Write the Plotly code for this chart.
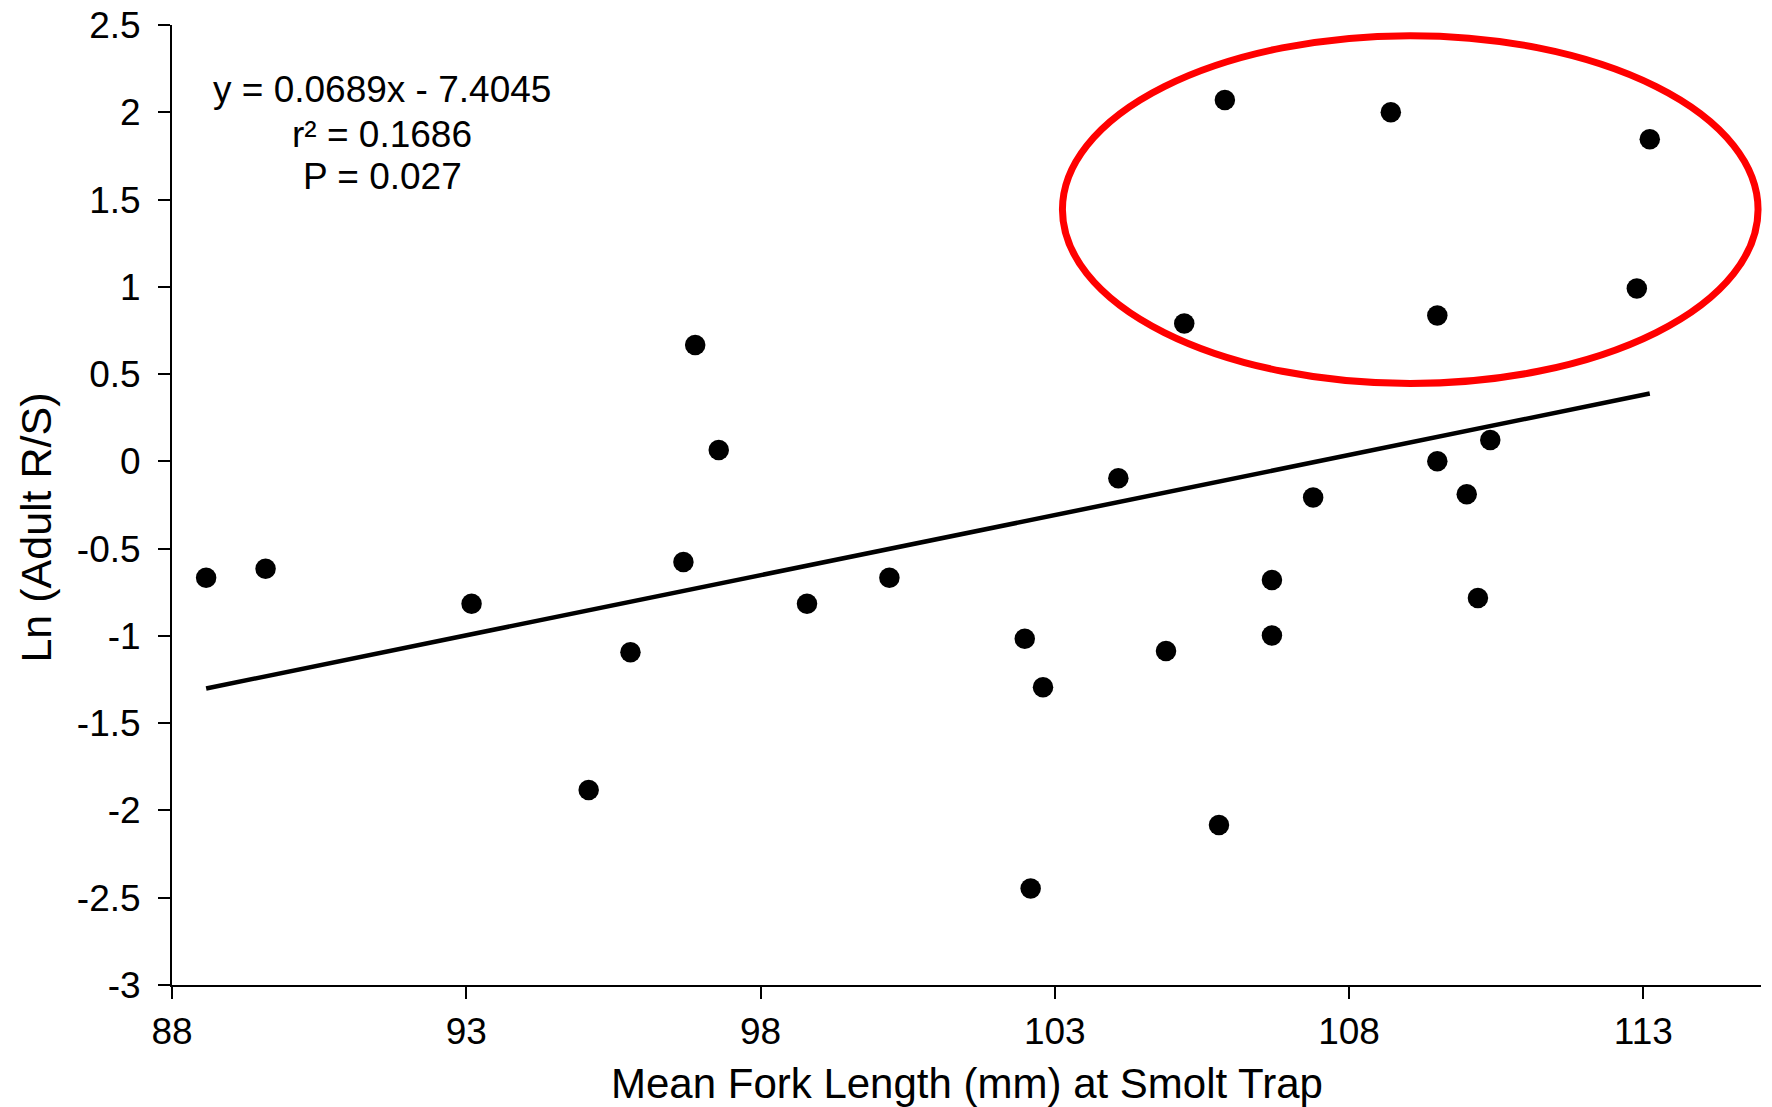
import plotly.graph_objects as go

# ---- data ----
fork_length = [88.58, 89.59, 93.09, 95.08, 95.79, 96.69, 96.89, 97.29, 98.79, 100.19,
               102.49, 102.59, 102.80, 104.08, 104.89, 105.20, 105.79, 105.89, 106.69, 106.69,
               107.39, 108.71, 109.50, 109.50, 110.00, 110.19, 110.40, 112.89, 113.11]
ln_rs = [-0.667, -0.615, -0.816, -1.883, -1.094, -0.576, 0.667, 0.065, -0.816, -0.667,
         -1.016, -2.447, -1.294, -0.097, -1.087, 0.790, -2.084, 2.071, -0.680, -0.997,
         -0.207, 2.000, 0.835, 0.000, -0.188, -0.783, 0.123, 0.990, 1.845]

slope = 0.0689
intercept = -7.4045
stats_lines = ["y = 0.0689x - 7.4045", "r\u00b2 = 0.1686", "P = 0.027"]

x_tickvals = [88, 93, 98, 103, 108, 113]
x_ticktext = ["88", "93", "98", "103", "108", "113"]
y_tickvals = [2.5, 2, 1.5, 1, 0.5, 0, -0.5, -1, -1.5, -2, -2.5, -3]
y_ticktext = ["2.5", "2", "1.5", "1", "0.5", "0", "-0.5", "-1", "-1.5", "-2", "-2.5", "-3"]

x_range = [88, 115]
y_range = [-3, 2.5]

# highlighted cluster (ellipse bounds in data units)
ell_x = [103.13, 114.95]
ell_y = [0.446, 2.439]

FONT = "Liberation Sans, Arial, sans-serif"

def xp(v):
    return (v - x_range[0]) / (x_range[1] - x_range[0])

def yp(v):
    return (v - y_range[0]) / (y_range[1] - y_range[0])

fig = go.Figure()

x_line = [min(fork_length), max(fork_length)]
fig.add_trace(go.Scatter(
    x=x_line, y=[slope * v + intercept for v in x_line],
    mode="lines", line=dict(color="black", width=4.5), showlegend=False, hoverinfo="skip"))

fig.add_trace(go.Scatter(
    x=fork_length, y=ln_rs, mode="markers",
    marker=dict(color="black", size=20.5, line=dict(width=0)),
    showlegend=False))

fig.add_shape(type="circle", xref="paper", yref="paper",
              x0=xp(ell_x[0]), x1=xp(ell_x[1]), y0=yp(ell_y[0]), y1=yp(ell_y[1]),
              line=dict(color="#FF0000", width=7), layer="above")

stat_y = [2.130, 1.875, 1.631]
for txt, yy in zip(stats_lines, stat_y):
    fig.add_annotation(x=91.57, y=yy, xref="x", yref="y", text=txt, showarrow=False,
                       xanchor="center", yanchor="middle",
                       font=dict(family=FONT, size=37, color="black"))

fig.add_annotation(x=-0.0856, y=0.4765, xref="paper", yref="paper",
                   text="Ln (Adult R/S)", textangle=-90, showarrow=False,
                   xanchor="center", yanchor="middle",
                   font=dict(family=FONT, size=43, color="black"))

fig.add_annotation(x=0.5, y=-0.103, xref="paper", yref="paper",
                   text="Mean Fork Length (mm) at Smolt Trap", showarrow=False,
                   xanchor="center", yanchor="middle",
                   font=dict(family=FONT, size=42, color="black"))

fig.update_layout(
    width=1772, height=1107,
    margin=dict(l=172, r=11, t=25, b=122, pad=0, autoexpand=False),
    paper_bgcolor="white", plot_bgcolor="white",
    font=dict(family=FONT, color="black"),
    xaxis=dict(range=x_range, tickvals=x_tickvals, ticktext=x_ticktext, automargin=False,
               showgrid=False, zeroline=False, showline=True, linecolor="black", linewidth=2,
               ticks="outside", ticklen=12, tickwidth=2, tickcolor="black",
               tickfont=dict(family=FONT, size=37, color="black"), ticklabelstandoff=1),
    yaxis=dict(range=y_range, tickvals=y_tickvals, ticktext=y_ticktext, automargin=False,
               showgrid=False, zeroline=False, showline=True, linecolor="black", linewidth=2,
               ticks="outside", ticklen=12, tickwidth=2, tickcolor="black",
               tickfont=dict(family=FONT, size=37, color="black"), ticklabelstandoff=10),
)

fig.write_html("out.html")
